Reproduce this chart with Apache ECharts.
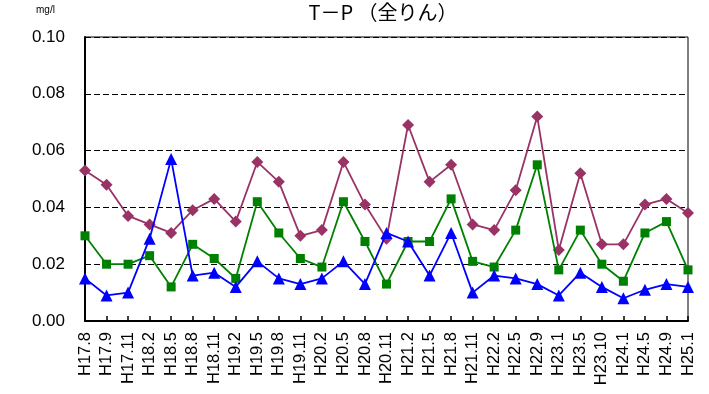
<!DOCTYPE html>
<html lang="ja">
<head>
  <meta charset="UTF-8">
  <title>T－P （全りん）</title>
  <script src="https://cdn.jsdelivr.net/npm/echarts@6/dist/echarts.min.js"></script>
  <style>
    html, body { margin: 0; padding: 0; background: #fff; }
    #chart { width: 709px; height: 394px; }
  </style>
</head>
<body>
  <div id="chart"></div>
  <script>
    // 調査月
    const categories = ['H17.8', 'H17.9', 'H17.11', 'H18.2', 'H18.5', 'H18.8', 'H18.11', 'H19.2',
      'H19.5', 'H19.8', 'H19.11', 'H20.2', 'H20.5', 'H20.8', 'H20.11', 'H21.2', 'H21.5', 'H21.8',
      'H21.11', 'H22.2', 'H22.5', 'H22.9', 'H23.1', 'H23.5', 'H23.10', 'H24.1', 'H24.5', 'H24.9', 'H25.1'];

    // 地点ごとの値 (mg/l)
    const purpleValues = [0.053, 0.048, 0.037, 0.034, 0.031, 0.039, 0.043, 0.035, 0.056, 0.049,
      0.030, 0.032, 0.056, 0.041, 0.029, 0.069, 0.049, 0.055, 0.034, 0.032, 0.046, 0.072, 0.025,
      0.052, 0.027, 0.027, 0.041, 0.043, 0.038];
    const greenValues = [0.030, 0.020, 0.020, 0.023, 0.012, 0.027, 0.022, 0.015, 0.042, 0.031,
      0.022, 0.019, 0.042, 0.028, 0.013, 0.028, 0.028, 0.043, 0.021, 0.019, 0.032, 0.055, 0.018,
      0.032, 0.020, 0.014, 0.031, 0.035, 0.018];
    const blueValues = [0.015, 0.009, 0.010, 0.029, 0.057, 0.016, 0.017, 0.012, 0.021, 0.015,
      0.013, 0.015, 0.021, 0.013, 0.031, 0.028, 0.016, 0.031, 0.010, 0.016, 0.015, 0.013, 0.009,
      0.017, 0.012, 0.008, 0.011, 0.013, 0.012];

    const yTicks = [0, 0.02, 0.04, 0.06, 0.08, 0.10];

    const chart = echarts.init(document.getElementById('chart'));

    const font = '"Liberation Sans", Arial, sans-serif';

    chart.setOption({
      animation: false,
      backgroundColor: '#ffffff',
      title: {
        text: 'T－P （全りん）',
        left: 378,
        top: -3,
        textAlign: 'center',
        textStyle: { fontFamily: '"Noto Sans CJK JP", sans-serif', fontSize: 20, fontWeight: 'normal', color: '#000' }
      },
      graphic: [{
        type: 'text',
        left: 36,
        top: 5,
        style: { text: 'mg/l', fontSize: 10, fontFamily: font, fill: '#000' }
      }],
      grid: {
        left: 85, top: 37, right: 21, bottom: 73,
        show: true, borderColor: '#000', borderWidth: 1
      },
      xAxis: {
        type: 'category',
        data: categories,
        boundaryGap: false,
        axisLine: { lineStyle: { color: '#000', width: 2 } },
        axisTick: { show: true, inside: true, length: 5, lineStyle: { color: '#000', width: 1.5 } },
        axisLabel: {
          rotate: 90, interval: 0, margin: 11,
          fontSize: 16.5, fontFamily: font, color: '#000'
        },
        splitLine: { show: false }
      },
      yAxis: {
        type: 'value',
        min: yTicks[0],
        max: yTicks[yTicks.length - 1],
        interval: 0.02,
        axisLine: { show: true, lineStyle: { color: '#000', width: 2 } },
        axisTick: { show: false },
        axisLabel: {
          fontSize: 17, fontFamily: font, color: '#000', margin: 20,
          formatter: v => v.toFixed(2)
        },
        splitLine: { show: true, lineStyle: { color: '#000', type: [6, 3], width: 1 } }
      },
      series: [
        {
          type: 'line', data: purpleValues,
          symbol: 'diamond', symbolSize: 12,
          itemStyle: { color: '#993366' },
          lineStyle: { color: '#993366', width: 1.8 },
          z: 2
        },
        {
          type: 'line', data: greenValues,
          symbol: 'rect', symbolSize: 9,
          itemStyle: { color: '#008000' },
          lineStyle: { color: '#008000', width: 1.8 },
          z: 3
        },
        {
          type: 'line', data: blueValues,
          symbol: 'triangle', symbolSize: 12,
          itemStyle: { color: '#0000ff' },
          lineStyle: { color: '#0000ff', width: 1.8 },
          z: 4
        }
      ]
    });
  </script>
</body>
</html>
